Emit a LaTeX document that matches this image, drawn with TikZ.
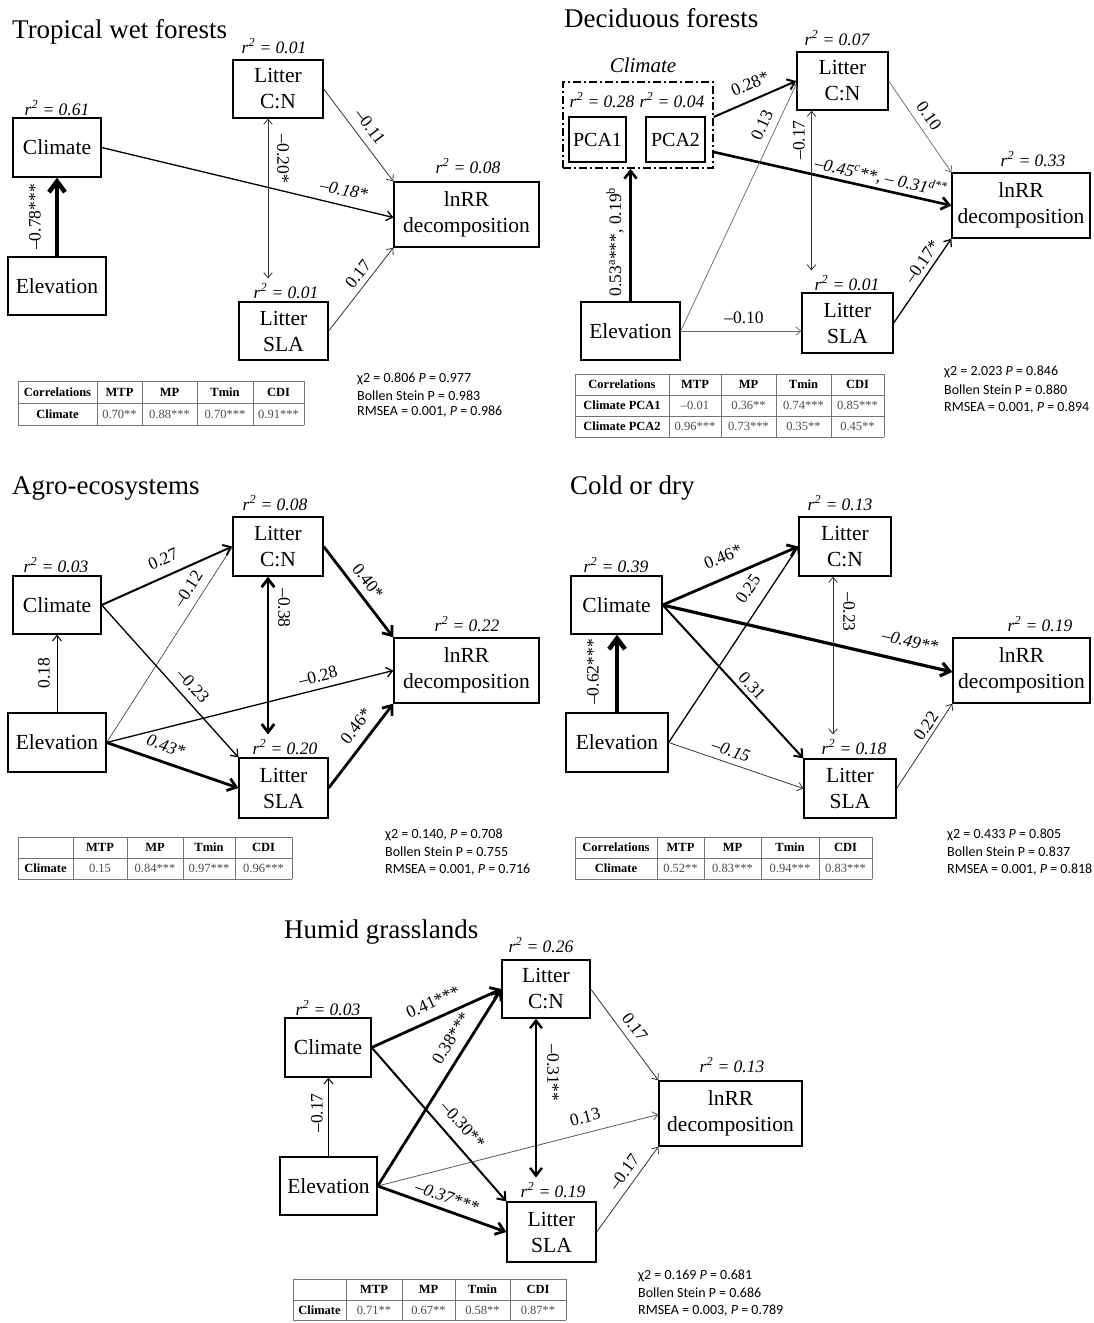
\documentclass[tikz,border=0pt]{standalone}
\usepackage{fontspec}
\setmainfont{Liberation Serif}
\newfontfamily\statfont{Carlito}
\usetikzlibrary{arrows.meta,calc}
\newcommand\rsqt[1]{r\textsuperscript{2} = #1}
\begin{document}
\begin{tikzpicture}[x=1pt,y=-1pt,
  >={Straight Barb[length=4pt 1.5,width=7pt 2]},
  box/.style={draw,line width=1.3pt,inner sep=0pt,align=center,font=\fontsize{21.5}{26}\selectfont},
  rsq/.style={font=\fontsize{17.5}{20}\selectfont\itshape,inner sep=0pt},
  lab/.style={font=\fontsize{17.5}{20}\selectfont,inner sep=0pt},
  ilab/.style={font=\fontsize{17.5}{20}\selectfont\itshape,inner sep=0pt},
  ttl/.style={font=\fontsize{27}{30}\selectfont,anchor=west,inner sep=0pt},
  pthin/.style={->,line width=0.8pt,draw=black!80},
  pnorm/.style={->,line width=1.3pt},
  pmed/.style={->,line width=2pt},
  pthick/.style={->,line width=2.8pt},
  pvthick/.style={->,line width=4.5pt},
  tline/.style={draw=black!55,line width=0.7pt},
  th/.style={font=\fontsize{12.5}{14}\selectfont\bfseries,inner sep=0pt},
  tv/.style={font=\fontsize{12.5}{14}\selectfont,text=black!70,inner sep=0pt},
  stat/.style={font=\statfont\fontsize{14}{16}\selectfont,anchor=west,inner sep=0pt}]
\fill[white] (0,0) rectangle (1094,1323);
\useasboundingbox (0,0) rectangle (1094,1323);

% ================= Tropical wet forests =================
\node[ttl] (t-title) at (12,32) {Tropical wet forests};
\node[box,minimum width=88pt,minimum height=59pt] (t-clim) at (57,147.5) {Climate};
\node[box,minimum width=98pt,minimum height=58pt] (t-elev) at (57,286) {Elevation};
\node[box,minimum width=90pt,minimum height=58pt] (t-cn) at (278,89) {Litter\\C:N};
\node[box,minimum width=89pt,minimum height=58pt] (t-sla) at (283.5,331) {Litter\\SLA};
\node[box,minimum width=145pt,minimum height=65pt] (t-ln) at (466.5,214.5) {lnRR\\decomposition};
\node[rsq] (t-climr) at (57,108) {\rsqt{0.61}};
\node[rsq] (t-cnr) at (274,46) {\rsqt{0.01}};
\node[rsq] (t-slar) at (286,291) {\rsqt{0.01}};
\node[rsq] (t-lnr) at (468,166) {\rsqt{0.08}};
\draw[pvthick] (t-elev.north) -- (t-clim.south);
\draw[pnorm] (t-clim.east) -- ([yshift=-3pt]t-ln.west);
\draw[pthin] (t-cn.east) -- (t-ln.north west);
\draw[pthin] (t-sla.east) -- (t-ln.south west);
\draw[pthin,<->] ($(t-cn.south)+(-10,0)$) -- ($(t-cn.south |- t-slar.north)+(-10,-5)$);
\node[lab,rotate=90] (t-l1) at (35,217) {–0.78***};
\node[lab,rotate=-90] (t-l2) at (283,159) {–0.20*};
\node[ilab,rotate=-12] (t-l3) at (344,190) {–0.18*};
\node[lab,rotate=-53] (t-l4) at (370,127) {–0.11};
\node[lab,rotate=52] (t-l5) at (358,274) {0.17};
\foreach \x in {18,97,142,197,253,304} \draw[tline] (\x,381) -- (\x,425);
\foreach \y in {381,403,425} \draw[tline] (18,\y) -- (304,\y);
\foreach \x/\tx [count=\i] in {57.5/Correlations,119.5/MTP,169.5/MP,225/Tmin,278.5/CDI}
  \node[th] (t-h\i) at (\x,392) {\tx};
\node[th] (t-r1) at (57.5,414) {Climate};
\foreach \x/\tx [count=\i] in {119.5/0.70**,169.5/0.88***,225/0.70***,278.5/0.91***}
  \node[tv] (t-v\i) at (\x,414) {\tx};
\node[stat] (t-s1) at (357,379) {χ2 = 0.806 \textit{P} = 0.977};
\node[stat] (t-s2) at (357,395.5) {Bollen Stein P = 0.983};
\node[stat] (t-s3) at (357,412) {RMSEA = 0.001, \textit{P} = 0.986};

% ================= Deciduous forests =================
\node[ttl] (d-title) at (564,18) {Deciduous forests};
\node[font=\fontsize{21}{26}\selectfont\itshape,inner sep=0pt] (d-climlab) at (643,65) {Climate};
\node[draw,line width=1.3pt,dash pattern=on 8pt off 3pt on 2pt off 3pt,minimum width=150pt,minimum height=86pt,inner sep=0pt] (d-dash) at (638,125) {};
\node[box,font=\fontsize{20}{24}\selectfont,minimum width=57pt,minimum height=45pt] (d-pca1) at (597.5,139.5) {PCA1};
\node[box,font=\fontsize{20}{24}\selectfont,minimum width=59pt,minimum height=45pt] (d-pca2) at (675.5,139.5) {PCA2};
\node[rsq] (d-pca1r) at (602,100) {\rsqt{0.28}};
\node[rsq] (d-pca2r) at (672,100) {\rsqt{0.04}};
\node[box,minimum width=91pt,minimum height=58pt] (d-cn) at (842.5,81) {Litter\\C:N};
\node[box,minimum width=91pt,minimum height=60pt] (d-sla) at (847.5,323) {Litter\\SLA};
\node[box,minimum width=138pt,minimum height=65pt] (d-ln) at (1021,205.5) {lnRR\\decomposition};
\node[box,minimum width=99pt,minimum height=58pt] (d-elev) at (630.5,331) {Elevation};
\node[rsq] (d-cnr) at (837,38) {\rsqt{0.07}};
\node[rsq] (d-slar) at (847,283) {\rsqt{0.01}};
\node[rsq] (d-lnr) at (1033,159) {\rsqt{0.33}};
\draw[->,line width=2.6pt] (d-elev.north) -- (d-elev.north |- d-dash.south);
\draw[pmed] ([yshift=8pt]d-dash.east) -- (d-cn.west);
\draw[->,line width=2.6pt] ([yshift=-27pt]d-dash.east) -- (d-ln.west);
\draw[pthin,draw=black!60,line width=0.7pt] (d-elev.east) -- ([yshift=-3pt]d-cn.west);
\draw[pthin,draw=black!60,line width=0.7pt] (d-elev.east) -- (d-elev.east -| d-sla.west);
\draw[pthin,<->] ($(d-cn.south)+(-31,0)$) -- ($(d-cn.south |- d-slar.north)+(-31,-5)$);
\draw[pthin,draw=black!60,line width=0.7pt] (d-cn.east) -- (d-ln.north west);
\draw[pnorm] (d-sla.east) -- (d-ln.south west);
\node[lab,rotate=90] (d-l1) at (615,242) {0.53\textsuperscript{a}***, 0.19\textsuperscript{b}};
\node[lab,rotate=23] (d-l2) at (750,84) {0.28*};
\node[ilab,rotate=-12.5] (d-l3) at (881,177) {–0.45\textsuperscript{c}**, – 0.31\textsuperscript{d**}};
\node[lab,rotate=65] (d-l4) at (762,125) {0.13};
\node[lab] (d-l5) at (744,318) {–0.10};
\node[lab,rotate=90] (d-l6) at (799,140) {–0.17};
\node[lab,rotate=-55] (d-l7) at (929,116) {0.10};
\node[lab,rotate=55] (d-l8) at (922,262) {–0.17*};
\foreach \x in {575,669,721,776,831,884} \draw[tline] (\x,374) -- (\x,437);
\foreach \y in {374,395,416,437} \draw[tline] (575,\y) -- (884,\y);
\foreach \x/\tx [count=\i] in {622/Correlations,695/MTP,748.5/MP,803.5/Tmin,857.5/CDI}
  \node[th] (d-h\i) at (\x,384.5) {\tx};
\node[th] (d-r1) at (622,405.5) {Climate PCA1};
\node[th] (d-r2) at (622,426.5) {Climate PCA2};
\foreach \x/\tx [count=\i] in {695/–0.01,748.5/0.36**,803.5/0.74***,857.5/0.85***}
  \node[tv] (d-v\i) at (\x,405.5) {\tx};
\foreach \x/\tx [count=\i] in {695/0.96***,748.5/0.73***,803.5/0.35**,857.5/0.45**}
  \node[tv] (d-w\i) at (\x,426.5) {\tx};
\node[stat] (d-s1) at (944,372) {χ2 = 2.023 \textit{P} = 0.846};
\node[stat] (d-s2) at (944,390) {Bollen Stein P = 0.880};
\node[stat] (d-s3) at (944,408) {RMSEA = 0.001, \textit{P} = 0.894};

% ================= Agro-ecosystems =================
\node[ttl] (a-title) at (12,488) {Agro-ecosystems};
\node[box,minimum width=88pt,minimum height=58pt] (a-clim) at (57,605) {Climate};
\node[box,minimum width=98pt,minimum height=59pt] (a-elev) at (57,742.5) {Elevation};
\node[box,minimum width=90pt,minimum height=59pt] (a-cn) at (278,546.5) {Litter\\C:N};
\node[box,minimum width=89pt,minimum height=60pt] (a-sla) at (283.5,788) {Litter\\SLA};
\node[box,minimum width=145pt,minimum height=65pt] (a-ln) at (466.5,670.5) {lnRR\\decomposition};
\node[rsq] (a-climr) at (56,565) {\rsqt{0.03}};
\node[rsq] (a-cnr) at (275,503) {\rsqt{0.08}};
\node[rsq] (a-slar) at (285,747) {\rsqt{0.20}};
\node[rsq] (a-lnr) at (467,624) {\rsqt{0.22}};
\draw[pnorm,line width=1pt] (a-elev.north) -- (a-clim.south);
\draw[pmed] (a-clim.east) -- (a-cn.west);
\draw[pnorm] (a-clim.east) -- (a-sla.north west);
\draw[pthin,line width=0.6pt] (a-elev.east) -- (a-cn.west);
\draw[pnorm] (a-elev.east) -- (a-ln.west);
\draw[pthick] (a-elev.east) -- (a-sla.west);
\draw[pthick,<->] ($(a-cn.south)+(-10,0)$) -- ($(a-cn.south |- a-slar.north)+(-10,-5)$);
\draw[pthick] (a-cn.east) -- (a-ln.north west);
\draw[pthick] (a-sla.east) -- (a-ln.south west);
\node[lab,rotate=90] (a-l1) at (44,673) {0.18};
\node[lab,rotate=24] (a-l2) at (163,559) {0.27};
\node[lab,rotate=-48] (a-l3) at (193,686) {–0.23};
\node[lab,rotate=57] (a-l4) at (188,589) {–0.12};
\node[lab,rotate=14] (a-l5) at (318,676) {–0.28};
\node[ilab,rotate=-19] (a-l6) at (166,746) {0.43*};
\node[lab,rotate=-90] (a-l7) at (284,608) {–0.38};
\node[lab,rotate=-52] (a-l8) at (368,581) {0.40*};
\node[lab,rotate=52] (a-l9) at (356,726) {0.46*};
\foreach \x in {18,73,127,183,235,292} \draw[tline] (\x,837) -- (\x,879);
\foreach \y in {837,858,879} \draw[tline] (18,\y) -- (292,\y);
\foreach \x/\tx [count=\i] in {100/MTP,155/MP,209/Tmin,263.5/CDI}
  \node[th] (a-h\i) at (\x,847.5) {\tx};
\node[th] (a-r1) at (45.5,868.5) {Climate};
\foreach \x/\tx [count=\i] in {100/0.15,155/0.84***,209/0.97***,263.5/0.96***}
  \node[tv] (a-v\i) at (\x,868.5) {\tx};
\node[stat] (a-s1) at (385,835) {χ2 = 0.140, \textit{P} = 0.708};
\node[stat] (a-s2) at (385,852) {Bollen Stein P = 0.755};
\node[stat] (a-s3) at (385,870) {RMSEA = 0.001, \textit{P} = 0.716};

% ================= Cold or dry =================
\node[ttl] (c-title) at (570,488) {Cold or dry};
\node[box,minimum width=91pt,minimum height=58pt] (c-clim) at (616.5,605) {Climate};
\node[box,minimum width=102pt,minimum height=59pt] (c-elev) at (617,742.5) {Elevation};
\node[box,minimum width=92pt,minimum height=59pt] (c-cn) at (845,546.5) {Litter\\C:N};
\node[box,minimum width=92pt,minimum height=59pt] (c-sla) at (850,788.5) {Litter\\SLA};
\node[box,minimum width=137pt,minimum height=65pt] (c-ln) at (1021.5,670.5) {lnRR\\decomposition};
\node[rsq] (c-climr) at (616,565) {\rsqt{0.39}};
\node[rsq] (c-cnr) at (840,503) {\rsqt{0.13}};
\node[rsq] (c-slar) at (854,747) {\rsqt{0.18}};
\node[rsq] (c-lnr) at (1040,624) {\rsqt{0.19}};
\draw[pvthick] (c-elev.north) -- (c-elev.north |- c-clim.south);
\draw[pthick] (c-clim.east) -- (c-cn.west);
\draw[->,line width=3.2pt] (c-clim.east) -- ([yshift=-1.5pt]c-ln.west);
\draw[pmed] (c-clim.east) -- (c-sla.north west);
\draw[pnorm] (c-elev.east) -- (c-cn.west);
\draw[pthin] (c-elev.east) -- (c-sla.west);
\draw[pthin,<->] ($(c-cn.south)+(-12,0)$) -- ($(c-cn.south |- c-slar.north)+(-12,-5)$);
\draw[pthin] (c-sla.east) -- (c-ln.south west);
\node[lab,rotate=90] (c-l1) at (593,672) {–0.62***};
\node[lab,rotate=23] (c-l2) at (723,557) {0.46*};
\node[ilab,rotate=-13] (c-l3) at (910,641) {–0.49**};
\node[lab,rotate=-47] (c-l4) at (752,686) {0.31};
\node[lab,rotate=56] (c-l5) at (748,589) {0.25};
\node[ilab,rotate=-19] (c-l6) at (731,751) {–0.15};
\node[lab,rotate=-90] (c-l7) at (849,612) {–0.23};
\node[lab,rotate=56] (c-l8) at (926,726) {0.22};
\foreach \x in {575,657,704,761,819,872} \draw[tline] (\x,837) -- (\x,879);
\foreach \y in {837,858,879} \draw[tline] (575,\y) -- (872,\y);
\foreach \x/\tx [count=\i] in {616/Correlations,680.5/MTP,732.5/MP,790/Tmin,845.5/CDI}
  \node[th] (c-h\i) at (\x,847.5) {\tx};
\node[th] (c-r1) at (616,868.5) {Climate};
\foreach \x/\tx [count=\i] in {680.5/0.52**,732.5/0.83***,790/0.94***,845.5/0.83***}
  \node[tv] (c-v\i) at (\x,868.5) {\tx};
\node[stat] (c-s1) at (947,835) {χ2 = 0.433 \textit{P} = 0.805};
\node[stat] (c-s2) at (947,852) {Bollen Stein P = 0.837};
\node[stat] (c-s3) at (947,870) {RMSEA = 0.001, \textit{P} = 0.818};

% ================= Humid grasslands =================
\node[ttl] (h-title) at (284,932) {Humid grasslands};
\node[box,minimum width=86pt,minimum height=59pt] (h-clim) at (328,1047.5) {Climate};
\node[box,minimum width=97pt,minimum height=58pt] (h-elev) at (328.5,1186) {Elevation};
\node[box,minimum width=88pt,minimum height=58pt] (h-cn) at (546,989) {Litter\\C:N};
\node[box,minimum width=89pt,minimum height=60pt] (h-sla) at (551.5,1232) {Litter\\SLA};
\node[box,minimum width=143pt,minimum height=65pt] (h-ln) at (730.5,1113.5) {lnRR\\decomposition};
\node[rsq] (h-climr) at (328,1008) {\rsqt{0.03}};
\node[rsq] (h-cnr) at (541,945) {\rsqt{0.26}};
\node[rsq] (h-slar) at (553,1190) {\rsqt{0.19}};
\node[rsq] (h-lnr) at (732,1065) {\rsqt{0.13}};
\draw[pnorm,line width=1pt] (h-elev.north) -- (h-elev.north |- h-clim.south);
\draw[pthick] (h-clim.east) -- (h-cn.west);
\draw[pmed] (h-clim.east) -- (h-sla.north west);
\draw[pthick] (h-elev.east) -- (h-cn.west);
\draw[pthin,draw=black!65] (h-elev.east) -- ([yshift=-1pt]h-ln.west);
\draw[pthick] (h-elev.east) -- (h-sla.west);
\draw[->,line width=2.4pt,<->] ($(h-cn.south)+(-10,0)$) -- ($(h-cn.south |- h-slar.north)+(-10,-5)$);
\draw[pthin] (h-cn.east) -- (h-ln.north west);
\draw[pthin] (h-sla.east) -- (h-ln.south west);
\node[lab,rotate=90] (h-l1) at (317,1113) {–0.17};
\node[lab,rotate=24] (h-l2) at (433,1002) {0.41***};
\node[lab,rotate=-48] (h-l3) at (463,1125) {–0.30**};
\node[lab,rotate=58] (h-l4) at (451,1038) {0.38***};
\node[lab,rotate=14.5] (h-l5) at (585,1117) {0.13};
\node[ilab,rotate=-19.5] (h-l6) at (447,1197) {–0.37***};
\node[lab,rotate=-90] (h-l7) at (553,1073) {–0.31**};
\node[lab,rotate=-53] (h-l8) at (635,1027) {0.17};
\node[lab,rotate=54] (h-l9) at (624,1172) {–0.17};
\foreach \x in {293,346,402,455,510,566} \draw[tline] (\x,1279) -- (\x,1320);
\foreach \y in {1279,1300,1320} \draw[tline] (293,\y) -- (566,\y);
\foreach \x/\tx [count=\i] in {374/MTP,428.5/MP,482.5/Tmin,538/CDI}
  \node[th] (h-h\i) at (\x,1289.5) {\tx};
\node[th] (h-r1) at (319.5,1310) {Climate};
\foreach \x/\tx [count=\i] in {374/0.71**,428.5/0.67**,482.5/0.58**,538/0.87**}
  \node[tv] (h-v\i) at (\x,1310) {\tx};
\node[stat] (h-s1) at (638,1276) {χ2 = 0.169 \textit{P} = 0.681};
\node[stat] (h-s2) at (638,1293) {Bollen Stein P = 0.686};
\node[stat] (h-s3) at (638,1311) {RMSEA = 0.003, \textit{P} = 0.789};
\end{tikzpicture}
\end{document}
